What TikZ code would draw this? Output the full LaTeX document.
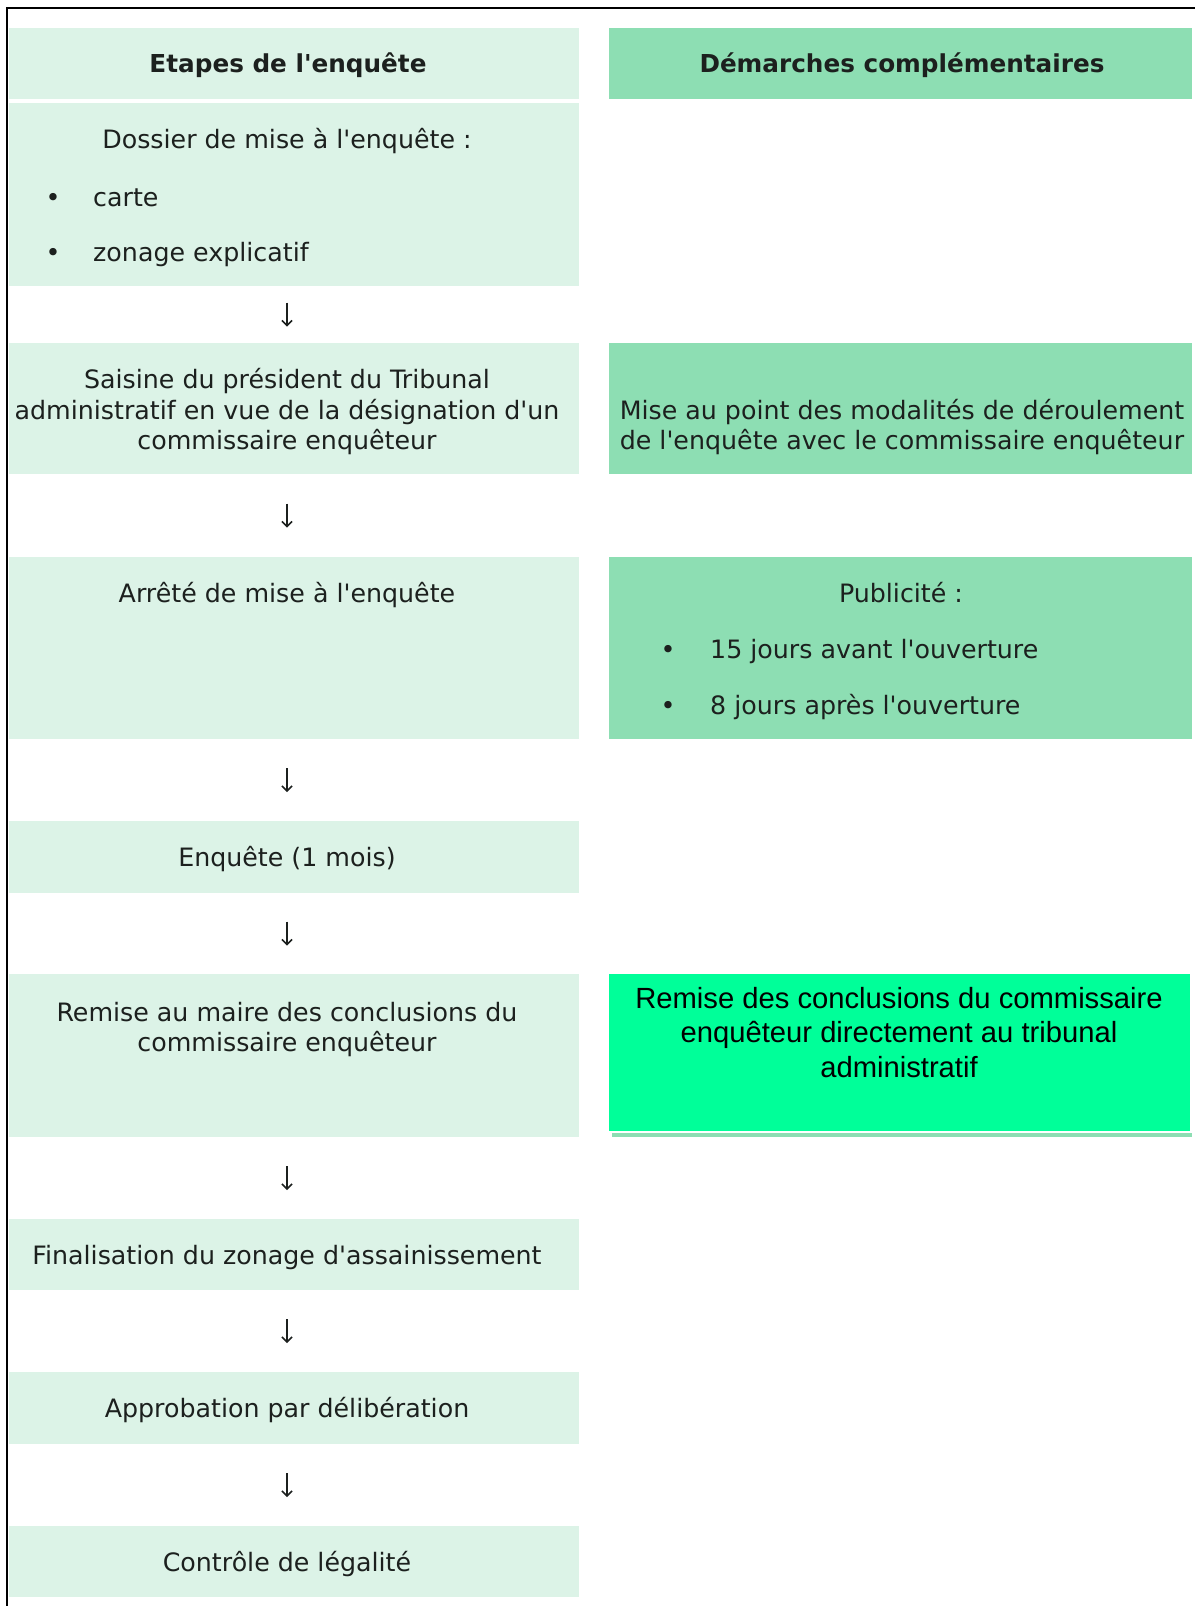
\documentclass[tikz,border=0pt]{standalone}
\usepackage{fontspec}
\setmainfont{DejaVu Sans}[Ligatures=TeXOff]
\newfontfamily\arialfont{Liberation Sans}[Ligatures=TeXOff]
\usetikzlibrary{arrows.meta,calc}
\definecolor{lightg}{RGB}{220,243,231}
\definecolor{midg}{RGB}{141,222,179}
\definecolor{brightg}{RGB}{0,255,153}
\definecolor{ink}{RGB}{28,32,30}
\begin{document}
\begin{tikzpicture}[x=1pt,y=-1pt,
  lbox/.style={fill=lightg,draw=none,anchor=north west,inner sep=0pt,outer sep=0pt,minimum width=570pt},
  rbox/.style={fill=midg,draw=none,anchor=north west,inner sep=0pt,outer sep=0pt,minimum width=583pt},
  txt/.style={font=\fontsize{25.3}{30.7}\selectfont,text=ink,anchor=base,inner sep=0pt},
  ltxt/.style={txt,anchor=base west},
  htxt/.style={font=\fontsize{24.7}{30}\selectfont\bfseries,text=ink,anchor=base,inner sep=0pt},
  atxt/.style={font=\arialfont\fontsize{29.2}{34}\selectfont,text=black,anchor=base,inner sep=0pt},
  arr/.style={draw=ink,line width=1.5pt,-{Straight Barb[length=5pt,width=10pt]}},
]
\useasboundingbox (0,0) rectangle (1195,1606);
\fill[white] (0,0) rectangle (1195,1606);

% boxes
\node[lbox,minimum height=71pt] (H1) at (9,28) {};
\node[rbox,minimum height=71pt] (H2) at (609,28) {};
\node[lbox,minimum height=183pt] (L1) at (9,103) {};
\node[lbox,minimum height=131pt] (L2) at (9,343) {};
\node[rbox,minimum height=131pt] (R2) at (609,343) {};
\node[lbox,minimum height=182pt] (L3) at (9,557) {};
\node[rbox,minimum height=182pt] (R3) at (609,557) {};
\node[lbox,minimum height=72pt] (L4) at (9,821) {};
\node[lbox,minimum height=163pt] (L5) at (9,974) {};
\node[rbox,minimum height=159pt,minimum width=580pt] (RSh) at (612,978) {};
\node[fill=brightg,draw=white,line width=1.2pt,anchor=north west,inner sep=0pt,outer sep=0pt,minimum width=583pt,minimum height=159pt] (R5) at (608,973) {};
\node[lbox,minimum height=71pt] (L6) at (9,1219) {};
\node[lbox,minimum height=72pt] (L7) at (9,1372) {};
\node[lbox,minimum height=71pt] (L8) at (9,1526) {};

% frame
\draw[line width=2.4pt,black] (7,1606) -- (7,8) -- (1195,8);

% headers
\node[htxt] (h1t) at (288,72) {Etapes de l'enquête};
\node[htxt] (h2t) at (902,72) {Démarches complémentaires};

% L1
\node[txt] (l1a) at (287,148) {Dossier de mise à l'enquête :};
\node[txt] (l1b1) at (53,206) {•};
\node[ltxt] (l1b) at (93,206) {carte};
\node[txt] (l1c1) at (53,261) {•};
\node[ltxt] (l1c) at (93,261) {zonage explicatif};

% L2 / R2
\node[txt] (l2a) at (287,388) {Saisine du président du Tribunal};
\node[txt] (l2b) at (287,419) {administratif en vue de la désignation d'un};
\node[txt] (l2c) at (287,449) {commissaire enquêteur};
\node[txt] (r2a) at (902,419) {Mise au point des modalités de déroulement};
\node[txt] (r2b) at (902,449) {de l'enquête avec le commissaire enquêteur};

% L3 / R3
\node[txt] (l3a) at (287,602) {Arrêté de mise à l'enquête};
\node[txt] (r3a) at (901,602) {Publicité :};
\node[txt] (r3b1) at (668,658) {•};
\node[ltxt] (r3b) at (710,658) {15 jours avant l'ouverture};
\node[txt] (r3c1) at (668,714) {•};
\node[ltxt] (r3c) at (710,714) {8 jours après l'ouverture};

% L4
\node[txt] (l4a) at (287,866) {Enquête (1 mois)};

% L5 / R5
\node[txt] (l5a) at (287,1021) {Remise au maire des conclusions du};
\node[txt] (l5b) at (287,1051) {commissaire enquêteur};
\node[atxt] (r5a) at (899,1008) {Remise des conclusions du commissaire};
\node[atxt] (r5b) at (899,1042) {enquêteur directement au tribunal};
\node[atxt] (r5c) at (899,1077) {administratif};

% L6 - L8
\node[txt] (l6a) at (287,1264) {Finalisation du zonage d'assainissement};
\node[txt] (l7a) at (287,1417) {Approbation par délibération};
\node[txt] (l8a) at (287,1571) {Contrôle de légalité};

% arrows
\foreach \a/\b in {L1/L2,L2/L3,L3/L4,L4/L5,L5/L6,L6/L7,L7/L8}{
  \draw[arr] ($(\a.south)!.5!(\b.north)+(-7,-12)$) -- ($(\a.south)!.5!(\b.north)+(-7,12)$);
}
\end{tikzpicture}
\end{document}
